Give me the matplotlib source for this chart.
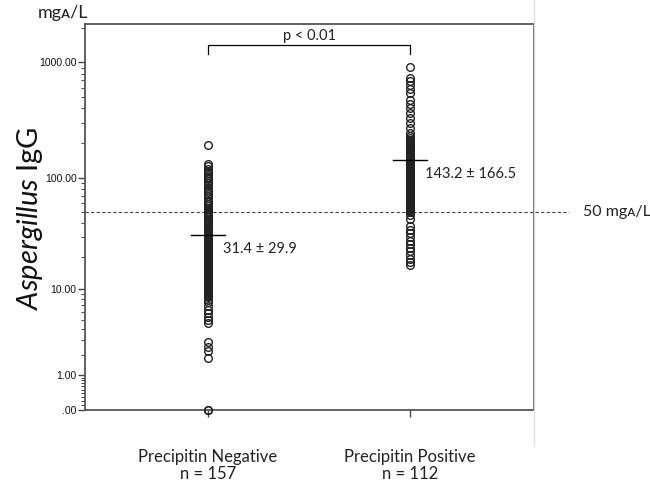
import numpy as np
import matplotlib
matplotlib.use("Agg")
import matplotlib.pyplot as plt
import matplotlib.transforms as mtransforms
from matplotlib.lines import Line2D

plt.rcParams['font.family'] = ['Lato', 'DejaVu Sans']
plt.rcParams['mathtext.fontset'] = 'custom'
plt.rcParams['mathtext.it'] = 'Lato:italic'
plt.rcParams['mathtext.rm'] = 'Lato'

groups = ["Precipitin Negative\nn = 157", "Precipitin Positive\nn = 112"]

# IgG values (mg/L)
neg_vals = [0, 0, 1.8, 2.2, 2.5, 2.9, 4.6, 5.0, 5.4, 5.9, 6.3, 6.9, 7.5, 7.9,
            8.4, 8.6, 8.7, 8.9, 9.0, 9.2, 9.4, 9.5, 9.7, 9.9,
            10.0, 10.2, 10.4, 10.5, 10.7, 10.9, 11.0, 11.2, 11.4, 11.6,
            11.7, 11.9, 12.1, 12.3, 12.5, 12.7, 12.9, 13.1, 13.3, 13.5,
            13.7, 13.9, 14.1, 14.3, 14.5, 14.6, 14.7, 14.8, 14.9, 15.0,
            15.2, 15.5, 15.7, 16.0, 16.2, 16.5, 16.7, 17.0, 17.2, 17.5,
            17.7, 18.0, 18.2, 18.5, 18.7, 19.0, 19.2, 19.5, 19.7, 20.0,
            20.2, 20.5, 20.7, 21.0, 21.2, 21.5, 21.7, 22.0, 22.2, 22.5,
            22.7, 23.0, 23.2, 23.5, 23.7, 24.0, 24.2, 24.5, 24.7, 25.0,
            25.4, 25.8, 26.2, 26.6, 27.0, 27.4, 27.8, 28.2, 28.6, 29.0,
            29.4, 29.8, 30.2, 30.6, 31.0, 31.4, 31.8, 32.2, 32.6, 33.0,
            33.4, 33.8, 34.2, 34.6, 35.0,
            36, 37.5, 39, 40.5, 42, 43.5, 45, 46, 47, 48, 49, 50,
            51, 53, 55, 57, 59, 61, 63, 66, 69, 72, 75, 78, 82, 86, 90, 94, 97, 99,
            102, 106, 110, 115, 120, 126, 132, 195]

pos_vals = [16.7, 18.1, 19.3, 20.9, 22.8, 24.2, 26.3, 28.0, 30.3, 33.0, 35.0, 38.0,
            44, 47,
            50, 51, 52, 53, 54, 55, 56, 57, 58, 59,
            60, 61, 62, 63, 64, 65, 66, 67, 68, 69,
            70, 71, 72, 73.5, 75, 76.5, 78, 79.5, 81, 82.5,
            84, 85.5, 87, 88.5, 90, 91.5, 93, 94.5, 96, 98,
            100, 102, 104, 106, 108, 110, 112, 114, 116, 118,
            120, 122, 124, 127, 130, 133, 136, 139, 142, 145,
            148, 151, 154, 157, 160, 163, 166, 169, 172, 175,
            178, 181, 184, 187, 190, 193, 196, 199, 202, 205,
            210, 215, 220, 230,
            245, 270, 298, 330, 364, 402, 436, 471, 541, 587, 635, 687, 729, 907]

means = [31.4, 143.2]
mean_labels = ["31.4 \u00b1 29.9", "143.2 \u00b1 166.5"]
cutoff = 50
cutoff_label = "50 mg\u1d00/L"
p_text = "p < 0.01"

y_major = [0, 1, 10, 100, 1000]
y_major_labels = [".00", "1.00", "10.00", "100.00", "1000.00"]
y_minor = [0.1, 0.2, 0.3, 0.4, 0.5, 0.6, 0.7, 0.8, 0.9,
           2, 3, 4, 5, 6, 7, 8, 9,
           20, 30, 40, 50, 60, 70, 80, 90,
           200, 300, 400, 500, 600, 700, 800, 900, 2000]


def fwd(v):
    v = np.asarray(v, float)
    return np.log10(np.maximum(1 + v, 1e-9))


def inv(v):
    return 10 ** np.asarray(v, float) - 1


fig = plt.figure(figsize=(6.5, 4.8), dpi=100)
ax = fig.add_axes([85 / 650, 1 - 410 / 480, 449 / 650, 386 / 480])
ax.set_yscale('function', functions=(fwd, inv))
ax.set_ylim(0, 2150)
ax.set_xlim(0.391, 2.613)

edge = '#222222'
for i, vals in enumerate([neg_vals, pos_vals]):
    x = i + 1
    ax.plot([x] * len(vals), vals, 'o', mfc='none', mec=edge, ms=5.5, mew=1.0,
            clip_on=False, zorder=3)
    ax.plot([x - 0.085, x + 0.085], [means[i], means[i]], color='black', lw=1, zorder=4)
    ax.annotate(mean_labels[i], (x, means[i]), xytext=(11, -10), textcoords='offset points',
                va='center', ha='left', fontsize=10.5, color='#222222')

# cutoff line running past the frame
trans = mtransforms.blended_transform_factory(ax.transAxes, ax.transData)
ax.plot([0, 1.078], [cutoff, cutoff], transform=trans, ls=(0, (3, 2)), color='#444444',
        lw=0.8, clip_on=False)
ax.text(1.109, cutoff, cutoff_label, transform=trans, va='center', ha='left',
        fontsize=11.5, color='#222222')

# significance bracket
ax.plot([1, 1, 2, 2], [1173, 1402, 1402, 1173], color='black', lw=0.9)
ax.annotate(p_text, (1.5, 1402), xytext=(0, 2), textcoords='offset points',
            ha='center', va='bottom', fontsize=10.5, color='#222222')

ax.set_yticks(y_major)
ax.set_yticklabels(y_major_labels, fontfamily='Liberation Sans', fontsize=7.5, color='#111111')
ax.set_yticks(y_minor, minor=True)
ax.tick_params(axis='y', which='major', length=5, width=1, color='#444444', pad=1)
ax.tick_params(axis='y', which='minor', length=3, width=0.7, color='#444444')

ax.set_xticks([1, 2])
ax.set_xticklabels(groups, fontsize=12, color='#222222', linespacing=1.05)
ax.tick_params(axis='x', length=5, width=1, color='#444444', pad=23)

for sp in ax.spines.values():
    sp.set_color('#555555')
    sp.set_linewidth(1.3)

fig.text(30 / 650, 1 - 218 / 480, r"$\mathit{Aspergillus}$ IgG", rotation=90,
         ha='center', va='center', fontsize=21, color='#111111')
fig.text(38 / 650, 1 - 13 / 480, "mg\u1d00/L", ha='left', va='center', fontsize=13,
         color='#222222')

fig.add_artist(Line2D([534 / 650, 534 / 650], [1 - 445 / 480, 1], color='#dddddd', lw=1))

fig.savefig("out.png", dpi=100)
